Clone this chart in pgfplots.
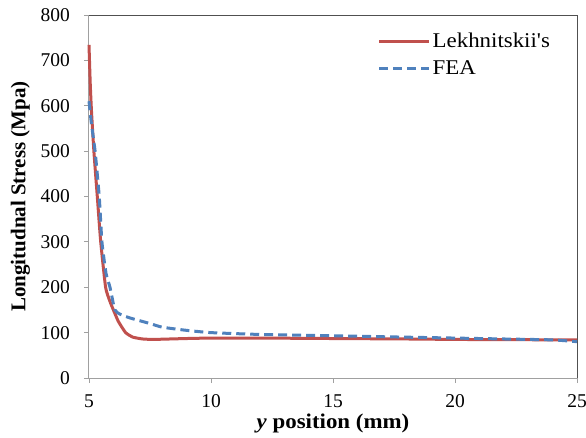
\documentclass[border=0pt]{standalone}
\usepackage{pgfplots}
\pgfplotsset{compat=1.18}
\usepackage{fontspec}
\setmainfont{Liberation Serif}[Ligatures=TeXOff]

\definecolor{lekred}{RGB}{192,80,77}
\definecolor{feablue}{RGB}{79,129,189}
\definecolor{axgray}{RGB}{160,160,160}
\definecolor{boxgray}{RGB}{80,80,80}

\begin{document}
\begin{tikzpicture}[x=1bp,y=1bp]
\useasboundingbox (-89bp,-60bp) rectangle (497bp,378bp);
\begin{axis}[
  at={(0,0)}, anchor=south west,
  scale only axis,
  width=488bp, height=363bp,
  xmin=5, xmax=25, ymin=0, ymax=800,
  xtick={5,10,15,20,25},
  ytick={0,100,...,800},
  /pgf/number format/assume math mode=true,
  tick label style={font=\fontsize{19.5bp}{22bp}\selectfont},
  xticklabel style={anchor=base, yshift=-24bp, inner sep=0pt},
  yticklabel style={anchor=east, xshift=-14bp, inner sep=0pt},
  axis line style={draw=none},
  tick style={draw=axgray, line width=0.8bp},
  tick align=outside,
  major tick length=5bp,
  xtick pos=bottom, ytick pos=left,
  xlabel={\scalebox{1.09}[1]{\textbf{\textit{y} position (mm)}}},
  ylabel={\textbf{Longitudnal Stress (Mpa)}},
  label style={font=\fontsize{21bp}{24bp}\selectfont},
  xlabel style={at={(axis description cs:0.5,0)}, anchor=base, yshift=-50bp, inner sep=0pt},
  ylabel style={yshift=7bp},
  legend style={at={(0.585,0.962)}, anchor=north west, draw=none, fill=none,
    font=\fontsize{21bp}{28bp}\selectfont, row sep=8bp,
    /tikz/every even column/.append style={column sep=2bp}},
  legend cell align=left,
  legend image code/.code={\draw[#1] (0bp,0bp) -- (50bp,0bp);},
  clip=false,
]
% frame: light axes on left and bottom, darker box on top and right
\draw[axgray, line width=1bp] (rel axis cs:0,1) -- (rel axis cs:0,0) -- (rel axis cs:1,0);
\draw[boxgray, line width=1bp] (rel axis cs:0,1) -- (rel axis cs:1,1) -- (rel axis cs:1,0);

\addplot[lekred, line width=3bp, smooth, tension=0.3] coordinates {
 (5.0,734) (5.05,650) (5.1,590) (5.2,500) (5.34,400) (5.48,300)
 (5.68,200) (5.85,170) (6.0,150) (6.2,125) (6.5,100) (6.8,90)
 (7.2,86) (7.6,85) (8,85.5) (9,87) (10,88) (12,88) (15,87)
 (18,86) (20,85) (22,84.5) (25,84)
};
\addlegendentry{\scalebox{1.09}[1]{Lekhnitskii's}}

\addplot[feablue, line width=3bp, dash pattern=on 9bp off 5bp, smooth, tension=0.3] coordinates {
 (5.0,610) (5.1,560) (5.25,500) (5.42,400) (5.53,300) (5.7,230)
 (5.86,200) (6.06,150) (6.3,140) (6.7,132) (7.5,120) (8,112)
 (9,105) (10,100) (12,96) (15,93) (18,90) (20,88) (22,86)
 (24,84) (25,80)
};
\addlegendentry{\scalebox{1.09}[1]{FEA}}
\end{axis}
\end{tikzpicture}
\end{document}
